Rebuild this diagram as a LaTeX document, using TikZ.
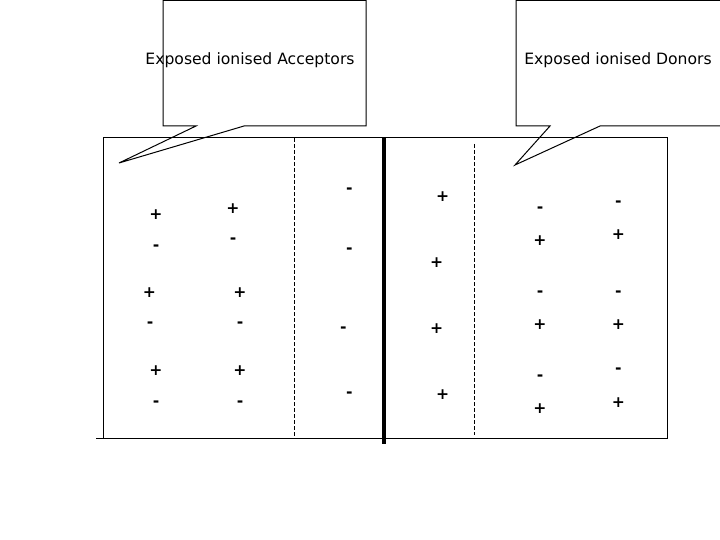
\documentclass[tikz,border=0pt]{standalone}
\usepackage{fontspec}
\setmainfont{DejaVu Sans}
\begin{document}
\begin{tikzpicture}[x=1pt,y=-1pt,
  lbl/.style={font=\fontsize{15.6}{18}\selectfont, inner sep=0pt, anchor=base},
  pl/.style={font=\fontsize{15.6}{18}\selectfont\bfseries, inner sep=0pt},
  mn/.style={font=\fontsize{15.6}{18}\selectfont\bfseries, inner sep=0pt, yshift=-1.8pt},
  thinline/.style={line width=1pt, black},
  junction/.style={line width=4pt, black},
  edge/.style={line width=1pt, black, dash pattern=on 4pt off 2pt}]
\useasboundingbox (0,0) rectangle (720,540);
\clip (0,0) rectangle (720,540);
\fill[white] (0,0) rectangle (720,540);

% callouts
\draw[thinline] (196,126) -- (163,126) -- (163,0.5) -- (366,0.5) -- (366,126) -- (244,126) -- (119,163) -- cycle;
\draw[thinline] (550,126) -- (516,126) -- (516,0.5) -- (730,0.5) -- (730,126) -- (600,126) -- (515,165) -- cycle;
\node[lbl] (acc) at (250,64.3) {Exposed ionised Acceptors};
\node[lbl] (don) at (618,64.3) {Exposed ionised Donors};

% device box
\draw[thinline] (103,138) -- (667,138) -- (667,438) -- (96,438);
\draw[thinline] (103,138) -- (103,438);
\draw[edge] (294.3,138) -- (294.3,437);
\draw[edge] (474.7,144) -- (474.7,435);
\draw[junction] (384,138) -- (384,444);

% p-side neutral region
\node[pl] (p1) at (156,215) {+};   \node[mn] (m1) at (156,245.7) {-};
\node[pl] (p2) at (233,209) {+};   \node[mn] (m2) at (233,239) {-};
\node[pl] (p3) at (149.5,293) {+}; \node[mn] (m3) at (150,323) {-};
\node[pl] (p4) at (240,293) {+};   \node[mn] (m4) at (240,323) {-};
\node[pl] (p5) at (156,370.7) {+}; \node[mn] (m5) at (156,401.7) {-};
\node[pl] (p6) at (240,370.7) {+}; \node[mn] (m6) at (240,401.7) {-};

% p-side depletion
\node[mn] (a1) at (349.3,189.3) {-};
\node[mn] (a2) at (349.3,249.3) {-};
\node[mn] (a3) at (343.3,327.7) {-};
\node[mn] (a4) at (349.3,393.3) {-};

% n-side depletion
\node[pl] (d1) at (442.7,196.7) {+};
\node[pl] (d2) at (436.7,262.7) {+};
\node[pl] (d3) at (436.7,329) {+};
\node[pl] (d4) at (442.7,395) {+};

% n-side neutral region
\node[mn] (n1) at (540,207.7) {-}; \node[pl] (q1) at (540,241) {+};
\node[mn] (n2) at (540,291.7) {-}; \node[pl] (q2) at (540,325) {+};
\node[mn] (n3) at (540,375.7) {-}; \node[pl] (q3) at (540,409) {+};
\node[mn] (n4) at (618.3,201.7) {-}; \node[pl] (q4) at (618.3,235) {+};
\node[mn] (n5) at (618.3,291.7) {-}; \node[pl] (q5) at (618.3,325) {+};
\node[mn] (n6) at (618.3,369.3) {-}; \node[pl] (q6) at (618.3,402.7) {+};
\end{tikzpicture}
\end{document}
